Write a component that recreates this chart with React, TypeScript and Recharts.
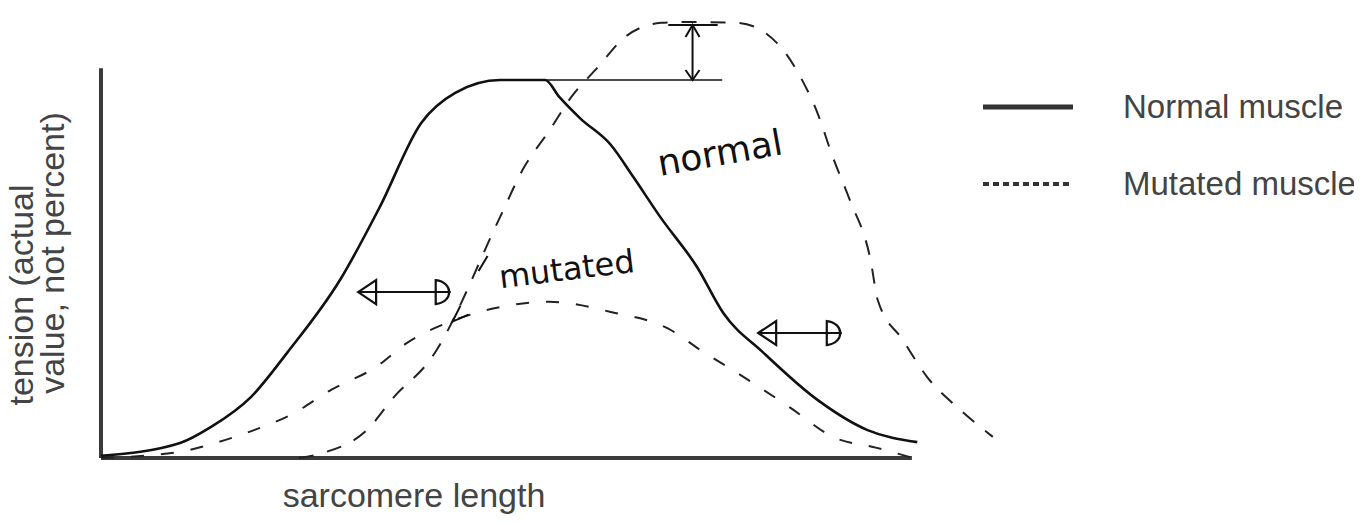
import React from 'react';
import { LineChart, Line, XAxis, YAxis, ReferenceLine, ReferenceDot, Legend } from 'recharts';

// sarcomere length / tension, arbitrary units
const NORMAL_LENGTH = [0, 0.88, 1.22, 1.67, 2.07, 2.66, 3.1, 3.56, 3.94, 4.44, 4.94, 5.1, 5.33, 5.67, 5.92, 6.22, 6.63, 6.92, 7.37, 7.97, 8.52, 9.08];
const NORMAL_TENSION = [0.05, 0.34, 0.7, 1.39, 2.39, 4.05, 5.7, 7.61, 8.3, 8.59, 8.59, 8.2, 7.72, 7.12, 6.39, 5.48, 4.34, 3.3, 2.39, 1.32, 0.64, 0.36];

const WEAK_LENGTH = [0, 0.88, 1.27, 1.71, 2.11, 2.56, 3.06, 3.4, 3.94, 4.44, 4.99, 5.67, 6.3, 6.7, 7.08, 7.67, 8.14, 8.63, 9.0];
const WEAK_TENSION = [0, 0.14, 0.34, 0.64, 0.98, 1.55, 2.07, 2.61, 3.14, 3.43, 3.55, 3.32, 2.95, 2.41, 1.93, 1.14, 0.48, 0.23, 0.02];

const SHIFTED_LENGTH = [2.2, 2.46, 2.96, 3.26, 3.66, 4.44, 4.69, 4.99, 5.23, 5.53, 5.83, 6.23, 6.48, 7.08, 7.52, 7.78, 7.97, 8.14, 8.33, 8.56, 8.64, 8.92, 9.19, 9.56, 9.92];
const SHIFTED_TENSION = [0, 0.11, 0.64, 1.39, 2.23, 5.48, 6.55, 7.45, 8.2, 8.89, 9.57, 9.89, 9.91, 9.89, 9.43, 8.66, 7.84, 6.84, 5.86, 4.5, 3.59, 2.68, 1.84, 1.09, 0.48];

const SERIES_NAMES = ['Normal muscle', 'Mutated muscle'];

// hand drawn annotations: [x, y] pairs
const AXIS_X_END = 9.02;
const AXIS_Y_END = 8.86;
const PLATEAU_LINE = [[4.5, 8.59], [6.91, 8.59]];
const PEAK_GAP = [[6.58, 8.59], [6.58, 9.84]];
const PEAK_CAP = [[6.31, 9.84], [6.86, 9.84]];
const LEFT_SHIFT = [[2.86, 3.77], [3.89, 3.77]];
const RIGHT_SHIFT = [[7.31, 2.84], [8.24, 2.84]];
const POINTER_TICK = [[4.2, 4.25], [4.3, 4.59]];
const POINTER_TIP = [3.91, 3.1];

const toPoints = (xs: number[], ys: number[]) => xs.map((x, i) => ({ x, y: ys[i] }));

const normalData = toPoints(NORMAL_LENGTH, NORMAL_TENSION);
const weakData = toPoints(WEAK_LENGTH, WEAK_TENSION);
const shiftedData = toPoints(SHIFTED_LENGTH, SHIFTED_TENSION);

const INK = '#111';
const GREY = '#444';
const TYPE_FONT = '"Liberation Sans", Arial, sans-serif';
const HAND_FONT = '"DejaVu Sans", sans-serif';

const seg = (p: number[][]) => [{ x: p[0][0], y: p[0][1] }, { x: p[1][0], y: p[1][1] }];

const arrowUp = (p: any) => (
  <path d={`M${p.cx - 7},${p.cy + 12} L${p.cx},${p.cy} L${p.cx + 7},${p.cy + 12}`} fill="none" stroke={INK} strokeWidth={2} />
);
const arrowDown = (p: any) => (
  <path d={`M${p.cx - 7},${p.cy - 10} L${p.cx},${p.cy} L${p.cx + 7},${p.cy - 10}`} fill="none" stroke={INK} strokeWidth={2} />
);
const triLeft = (p: any) => (
  <path d={`M${p.cx},${p.cy} L${p.cx + 18},${p.cy - 12} L${p.cx + 18},${p.cy + 12} Z`} fill="none" stroke={INK} strokeWidth={2.2} />
);
const dRight = (p: any) => (
  <path d={`M${p.cx - 15},${p.cy - 12} C${p.cx + 3},${p.cy - 10} ${p.cx + 3},${p.cy + 10} ${p.cx - 15},${p.cy + 12} Z`} fill="none" stroke={INK} strokeWidth={2.2} />
);
const pointerHead = (p: any) => (
  <path d={`M${p.cx + 8},${p.cy - 16} L${p.cx},${p.cy} L${p.cx + 16},${p.cy - 7}`} fill="none" stroke={INK} strokeWidth={2} />
);

const renderLegend = (props: any) => {
  const items = SERIES_NAMES.filter(n => (props.payload || []).some((e: any) => e.value === n));
  return (
    <div style={{ display: 'flex', flexDirection: 'column', fontFamily: TYPE_FONT, fontSize: 33, color: GREY }}>
      {items.map(name => {
        const dashed = name === SERIES_NAMES[1];
        return (
          <div key={name} style={{ display: 'flex', alignItems: 'center', height: 77 }}>
            <svg width={90} height={10}>
              <line x1={0} y1={5} x2={90} y2={5} stroke="#333" strokeWidth={dashed ? 4 : 5} strokeDasharray={dashed ? '6 4' : undefined} />
            </svg>
            <span style={{ marginLeft: 50, lineHeight: 1 }}>{name}</span>
          </div>
        );
      })}
    </div>
  );
};

export default function App() {
  return (
    <div style={{ width: 1362, height: 523, margin: -8 }}>
      <LineChart width={1362} height={523} data={normalData} margin={{ top: 18, right: 362, bottom: 65, left: 101 }}>
        <XAxis type="number" dataKey="x" domain={[0, 10]} hide />
        <YAxis type="number" domain={[0, 10]} hide />

        <ReferenceLine segment={[{ x: 0, y: 0 }, { x: AXIS_X_END, y: 0 }]} stroke="#3a3a3a" strokeWidth={4} />
        <ReferenceLine segment={[{ x: 0, y: 0 }, { x: 0, y: AXIS_Y_END }]} stroke="#3a3a3a" strokeWidth={4} />

        <Line data={weakData} dataKey="y" name={SERIES_NAMES[1]} type="monotone" stroke="#222" strokeWidth={2} strokeDasharray="13 17" dot={false} isAnimationActive={false} />
        <Line data={shiftedData} dataKey="y" name="shifted" legendType="none" type="monotone" stroke="#222" strokeWidth={2} strokeDasharray="15 14" dot={false} isAnimationActive={false} />
        <Line data={normalData} dataKey="y" name={SERIES_NAMES[0]} type="monotone" stroke={INK} strokeWidth={2.6} dot={false} isAnimationActive={false} />

        <ReferenceLine segment={seg(PLATEAU_LINE)} stroke={INK} strokeWidth={1.6} />
        <ReferenceLine segment={seg(PEAK_GAP)} stroke={INK} strokeWidth={2} />
        <ReferenceLine segment={seg(PEAK_CAP)} stroke={INK} strokeWidth={2} />
        <ReferenceDot x={PEAK_GAP[1][0]} y={PEAK_GAP[1][1]} shape={arrowUp} />
        <ReferenceDot x={PEAK_GAP[0][0]} y={PEAK_GAP[0][1]} shape={arrowDown} />

        <ReferenceLine segment={seg(LEFT_SHIFT)} stroke={INK} strokeWidth={2} />
        <ReferenceDot x={LEFT_SHIFT[0][0]} y={LEFT_SHIFT[0][1]} shape={triLeft} />
        <ReferenceDot x={LEFT_SHIFT[1][0]} y={LEFT_SHIFT[1][1]} shape={dRight} />

        <ReferenceLine segment={seg(RIGHT_SHIFT)} stroke={INK} strokeWidth={2} />
        <ReferenceDot x={RIGHT_SHIFT[0][0]} y={RIGHT_SHIFT[0][1]} shape={triLeft} />
        <ReferenceDot x={RIGHT_SHIFT[1][0]} y={RIGHT_SHIFT[1][1]} shape={dRight} />

        <ReferenceLine segment={seg(POINTER_TICK)} stroke={INK} strokeWidth={2} />
        <ReferenceDot x={POINTER_TIP[0]} y={POINTER_TIP[1]} shape={pointerHead} />

        <text x={722} y={165} transform="rotate(-10 722 165)" textAnchor="middle" fontFamily={HAND_FONT} fontSize={36} fill={INK}>normal</text>
        <text x={568} y={280} transform="rotate(-7 568 280)" textAnchor="middle" fontFamily={HAND_FONT} fontSize={32} fill={INK}>mutated</text>

        <text x={414} y={507} textAnchor="middle" fontFamily={TYPE_FONT} fontSize={34} fill={GREY}>sarcomere length</text>
        <text x={33} y={295} transform="rotate(-90 33 295)" textAnchor="middle" fontFamily={TYPE_FONT} fontSize={34} fill={GREY}>tension (actual</text>
        <text x={64} y={253} transform="rotate(-90 64 253)" textAnchor="middle" fontFamily={TYPE_FONT} fontSize={34} fill={GREY}>value, not percent)</text>

        <Legend layout="vertical" align="center" verticalAlign="middle" content={renderLegend} wrapperStyle={{ top: 68, left: 983, width: 379, height: 160 }} />
      </LineChart>
    </div>
  );
}
